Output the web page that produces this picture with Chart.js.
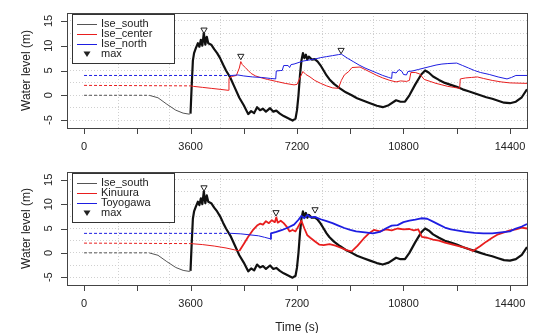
<!DOCTYPE html>
<html>
<head>
<meta charset="utf-8">
<script src="https://cdn.jsdelivr.net/npm/chart.js@4.4.1/dist/chart.umd.min.js"></script>
<style>
  html, body { margin: 0; padding: 0; background: #fff; }
  #top { position: relative; width: 533px; height: 150px; }
  #bottom { position: relative; width: 533px; height: 183px; }
</style>
</head>
<body>
<div id="top"><canvas id="canvas-1"></canvas></div>
<div id="bottom"><canvas id="canvas-2"></canvas></div>
<script>
// time (s), water level (m)
var iseSouth = [[0,0],[2200,0],[2500,-0.5],[2800,-1.8],[3100,-3.0],[3350,-3.6],[3550,-3.8],[3600,-3.7],
  [3640,2],[3680,7],[3720,8.5],[3780,9.5],[3850,10.5],[3900,9.8],[3950,11.2],[4000,10],[4050,12.6],
  [4100,10.2],[4150,11.8],[4200,10.5],[4300,10.2],[4400,9.3],[4500,8.5],[4600,7.5],[4700,6.2],[4800,5],
  [4950,3.5],[5100,1.5],[5250,-0.5],[5400,-2],[5550,-3.8],[5650,-3.2],[5750,-3.6],[5850,-2.4],[5950,-3.0],
  [6050,-2.7],[6150,-3.3],[6290,-2.6],[6400,-3.3],[6500,-3.1],[6620,-3.7],[6750,-4.2],[6850,-4.5],
  [6950,-4.8],[7050,-5.1],[7150,-4.7],[7200,-3],[7250,0],[7300,4],[7350,7],[7400,8.5],[7450,7.5],
  [7500,8.2],[7550,7.2],[7600,7.8],[7700,7.2],[7800,7.3],[7900,6.8],[8000,6.0],[8100,5.0],[8200,4.0],
  [8300,3.2],[8450,2.3],[8650,1.4],[8850,0.6],[9050,0],[9230,-0.6],[9450,-1.1],[9670,-1.6],[9900,-2.1],
  [10100,-2.4],[10300,-2.0],[10550,-1.0],[10700,-1.3],[10850,-1.3],[11000,0],[11200,2.2],[11400,4.2],
  [11530,5.0],[11650,4.6],[11800,3.8],[12000,3.1],[12200,2.5],[12400,2.1],[12600,1.7],[12800,1.2],
  [13000,0.8],[13200,0.4],[13400,0],[13600,-0.4],[13800,-0.7],[14000,-1.1],[14200,-1.5],[14400,-1.6],
  [14600,-1.3],[14800,-0.4],[14976,1.2]];

var iseCenter = [[0,2],[3600,1.9],[3700,1.8],[4000,1.6],[4300,1.4],[4600,1.2],[4880,1.0],[4900,3.4],
  [5000,3.8],[5150,4.0],[5250,5.5],[5300,6.8],[5350,6.2],[5450,5.6],[5550,5.0],[5650,4.4],[5800,3.9],
  [5950,3.6],[6200,3.2],[6500,2.8],[6800,2.4],[7100,2.1],[7200,2.2],[7300,3.5],[7400,4.8],[7500,4.2],
  [7640,3.7],[7800,3.0],[8000,2.4],[8200,1.9],[8400,1.5],[8600,1.4],[8700,3.0],[8800,4.1],[8950,4.8],
  [9060,5.6],[9330,5.7],[9500,5.2],[9700,4.6],[9900,4.0],[10100,3.5],[10340,3.0],[10550,2.7],
  [10700,2.9],[10900,2.8],[11000,3.0],[11050,4.6],[11200,4.6],[11350,4.3],[11500,3.2],[11700,2.8],
  [11900,2.4],[12100,2.1],[12300,1.8],[12500,1.6],[12700,1.4],[12720,3.3],[12900,3.5],[13100,3.6],
  [13300,3.7],[13500,3.4],[13800,3.0],[14100,2.7],[14400,2.5],[14976,2.4]];

var iseNorth = [[0,4],[5000,4],[5200,4.1],[5400,3.9],[5700,3.7],[6000,3.6],[6300,3.4],[6480,3.3],
  [6500,4.9],[6650,5.0],[6700,5.0],[6750,6.0],[6900,6.0],[6950,5.6],[7000,6.2],[7100,6.3],[7200,6.5],
  [7400,6.9],[7600,7.1],[7800,7.3],[8000,7.6],[8200,7.8],[8400,8.0],[8600,8.2],[8700,8.3],[8900,7.5],
  [9100,6.8],[9300,6.1],[9500,5.5],[9700,5.0],[9900,4.5],[10100,4.0],[10300,3.6],[10400,3.4],
  [10420,4.7],[10550,4.5],[10650,5.2],[10750,4.8],[10800,4.2],[10900,4.1],[10950,4.8],[11100,4.9],
  [11300,5.2],[11500,5.5],[11700,5.8],[11900,6.1],[12100,6.3],[12300,6.4],[12600,6.5],[12800,6.0],
  [13000,5.5],[13200,5.0],[13400,4.6],[13700,4.2],[14000,3.7],[14300,3.3],[14450,3.6],[14600,4.0],
  [14976,4.0]];

var kinuura = [[0,2],[3600,1.9],[4000,1.7],[4400,1.4],[4800,1.0],[5100,0.6],[5250,0.4],[5400,1.8],
  [5550,3.3],[5700,4.6],[5850,5.6],[5950,6.0],[6050,5.8],[6150,6.5],[6250,6.1],[6350,6.7],[6450,6.3],
  [6500,7.3],[6550,6.2],[6650,6.6],[6750,6.1],[6850,5.4],[6950,4.4],[7050,4.7],[7150,4.4],[7250,5.5],
  [7350,6.6],[7450,5.0],[7550,3.6],[7650,3.1],[7800,2.4],[7950,1.7],[8100,1.6],[8300,1.8],[8500,1.5],
  [8700,1.0],[8900,0.5],[9050,0.3],[9250,1.5],[9450,2.9],[9650,4.1],[9800,4.7],[10000,4.4],[10200,4.8],
  [10400,4.6],[10600,5.0],[10800,4.8],[11000,4.9],[11150,4.6],[11300,4.8],[11420,3.3],[11600,3.1],
  [11800,2.7],[12000,2.5],[12200,2.1],[12400,1.8],[12600,1.5],[12800,1.2],[13000,0.8],[13150,0.4],
  [13400,1.4],[13600,2.3],[13800,3.1],[14000,3.8],[14200,4.2],[14400,4.6],[14600,4.8],[14800,5.2],
  [14976,5.0]];

var toyogawa = [[0,4],[5000,4],[5300,3.9],[5600,3.7],[5900,3.5],[6100,3.2],[6290,2.9],[6320,4.0],
  [6500,4.3],[6700,4.7],[6900,5.2],[7100,5.8],[7250,6.8],[7350,7.6],[7450,7.1],[7550,7.8],[7650,7.3],
  [7800,7.4],[8000,6.9],[8200,6.5],[8400,6.1],[8600,5.6],[8800,5.1],[9000,4.7],[9200,4.4],[9500,4.2],
  [9770,4.0],[10000,4.3],[10200,5.0],[10400,5.6],[10600,5.7],[10800,6.3],[11000,6.6],[11200,6.8],
  [11400,7.1],[11600,7.0],[11800,6.4],[12000,5.8],[12200,5.2],[12400,4.8],[12600,4.6],[12900,4.3],
  [13200,4.1],[13500,4.0],[13800,4.0],[14100,4.2],[14400,4.4],[14600,5.0],[14800,5.4],[14976,5.9]];

var topMax = [[4056,13.2],[5300,7.9],[8690,9.1]];
var bottomMax = [[4056,13.4],[6490,8.3],[7810,8.9]];

var topNames = ['Ise_south','Ise_center','Ise_north','max'];
var bottomNames = ['Ise_south','Kinuura','Toyogawa','max'];

var xTickLabels = [0, 3600, 7200, 10800, 14400];
var xMinorTicks = [0, 1800, 3600, 5400, 7200, 9000, 10800, 12600, 14400];
var yTickLabels = [-5, 0, 5, 10, 15];

var BLACK = '#111', GRAY = '#555', RED = 'rgb(232,30,30)', BLUE = 'rgb(30,30,225)';
var FONT = '"Liberation Sans", Arial, Helvetica, sans-serif';

function piece(arr, t0, t1) {
  return arr.filter(function (p) { return p[0] >= t0 && p[0] <= t1; })
    .map(function (p) { return {x: p[0], y: p[1]}; });
}

function lineSet(label, data, color, width, dash, order) {
  return {
    label: label,
    data: data,
    borderColor: color,
    borderWidth: width,
    borderDash: dash || [],
    borderJoinStyle: 'round',
    pointRadius: 0,
    tension: 0,
    order: order
  };
}

// flat level before the wave arrives is dashed, then thin, then the noisy heavy trace
function series(label, arr, color, early, flatEnd, arrival, w, order) {
  var out = [lineSet(label, piece(arr, 0, flatEnd), early, 1, [3, 2], order)];
  if (arrival > flatEnd) out.push(lineSet(label, piece(arr, flatEnd, arrival), early, 1, null, order));
  out.push(lineSet(label, piece(arr, arrival, 99999), color, w, null, order));
  return out;
}

function maxSet(arr) {
  return {
    label: 'max',
    data: piece(arr, 0, 99999),
    showLine: false,
    pointStyle: 'triangle',
    rotation: 180,
    pointRadius: 3.6,
    borderColor: '#222',
    borderWidth: 1,
    backgroundColor: '#fff',
    order: 0
  };
}

var rAxes = {
  id: 'rAxes',
  afterDraw: function (chart) {
    var o = chart.options.plugins.rAxes;
    var ctx = chart.ctx, a = chart.chartArea;
    var xs = chart.scales.x, ys = chart.scales.y;
    ctx.save();
    ctx.setLineDash([]);
    ctx.strokeStyle = '#444';
    ctx.lineWidth = 1;
    ctx.strokeRect(Math.round(a.left) + 0.5, Math.round(a.top) + 0.5,
      Math.round(a.right - a.left), Math.round(a.bottom - a.top));
    ctx.beginPath();
    xMinorTicks.forEach(function (v) {
      var px = Math.round(xs.getPixelForValue(v)) + 0.5;
      ctx.moveTo(px, a.bottom); ctx.lineTo(px, a.bottom + 6);
    });
    yTickLabels.forEach(function (v) {
      var py = Math.round(ys.getPixelForValue(v)) + 0.5;
      ctx.moveTo(a.left, py); ctx.lineTo(a.left - 6, py);
    });
    ctx.stroke();

    ctx.fillStyle = '#222';
    ctx.font = '11px ' + FONT;
    ctx.textAlign = 'center';
    ctx.textBaseline = 'middle';
    xTickLabels.forEach(function (v) {
      ctx.fillText(String(v), xs.getPixelForValue(v), a.bottom + 19);
    });
    yTickLabels.forEach(function (v) {
      ctx.save();
      ctx.translate(a.left - 18, ys.getPixelForValue(v));
      ctx.rotate(-Math.PI / 2);
      ctx.fillText(String(v), 0, 0);
      ctx.restore();
    });

    ctx.font = '12px ' + FONT;
    ctx.save();
    ctx.translate(a.left - 40, (a.top + a.bottom) / 2);
    ctx.rotate(-Math.PI / 2);
    ctx.fillText('Water level (m)', 0, 0);
    ctx.restore();
    if (o.xTitle) ctx.fillText(o.xTitle, (a.left + a.right) / 2, a.bottom + 43);

    // legend box, top left
    var lx = a.left + 5, ly = a.top + 1, lw = 102, lh = 49;
    ctx.fillStyle = '#fff';
    ctx.fillRect(lx, ly, lw, lh);
    ctx.strokeStyle = '#333';
    ctx.strokeRect(lx + 0.5, ly + 0.5, lw, lh);
    ctx.font = '11px ' + FONT;
    ctx.textAlign = 'left';
    var cols = [GRAY, RED, BLUE];
    o.names.forEach(function (name, i) {
      var yy = ly + 10 + i * 10;
      if (i < 3) {
        ctx.strokeStyle = cols[i];
        ctx.beginPath(); ctx.moveTo(lx + 5, yy + 0.5); ctx.lineTo(lx + 25, yy + 0.5); ctx.stroke();
      } else {
        ctx.fillStyle = '#222';
        ctx.beginPath();
        ctx.moveTo(lx + 11.5, yy - 2.5); ctx.lineTo(lx + 18.5, yy - 2.5); ctx.lineTo(lx + 15, yy + 3);
        ctx.closePath(); ctx.fill();
      }
      ctx.fillStyle = '#222';
      ctx.fillText(name, lx + 29, yy);
    });
    ctx.restore();
  }
};

function makeChart(id, datasets, names, pad, xTitle) {
  return new Chart(document.getElementById(id), {
    type: 'line',
    data: { datasets: datasets },
    plugins: [rAxes],
    options: {
      responsive: true,
      maintainAspectRatio: false,
      animation: false,
      layout: { padding: pad },
      plugins: {
        legend: { display: false },
        tooltip: { enabled: false },
        rAxes: { names: names, xTitle: xTitle }
      },
      scales: {
        x: {
          type: 'linear', min: -576, max: 14976,
          ticks: { display: false, stepSize: 1800, includeBounds: false },
          grid: { color: '#d0d0d0', drawTicks: false },
          border: { display: false, dash: [1, 2] },
          afterFit: function (s) { s.height = 0; }
        },
        y: {
          min: -6.6, max: 16.6,
          ticks: { display: false, stepSize: 2.5, includeBounds: false },
          grid: { color: '#d0d0d0', drawTicks: false },
          border: { display: false, dash: [1, 2] },
          afterFit: function (s) { s.width = 0; }
        }
      }
    }
  });
}

var topSets = [].concat(
  series('Ise_south', iseSouth, BLACK, GRAY, 2200, 3600, 2.2, 3),
  series('Ise_center', iseCenter, RED, RED, 3600, 3600, 1, 2),
  series('Ise_north', iseNorth, BLUE, BLUE, 5000, 5000, 1, 1),
  [maxSet(topMax)]);
makeChart('canvas-1', topSets, topNames, { left: 67, right: 6, top: 13, bottom: 22 }, null);

var bottomSets = [].concat(
  series('Ise_south', iseSouth, BLACK, GRAY, 2200, 3600, 2.2, 3),
  series('Kinuura', kinuura, RED, RED, 3600, 5250, 1.8, 2),
  series('Toyogawa', toyogawa, BLUE, BLUE, 5000, 6290, 1.8, 1),
  [maxSet(bottomMax)]);
makeChart('canvas-2', bottomSets, bottomNames, { left: 67, right: 6, top: 22, bottom: 48 }, 'Time (s)');
</script>
</body>
</html>
